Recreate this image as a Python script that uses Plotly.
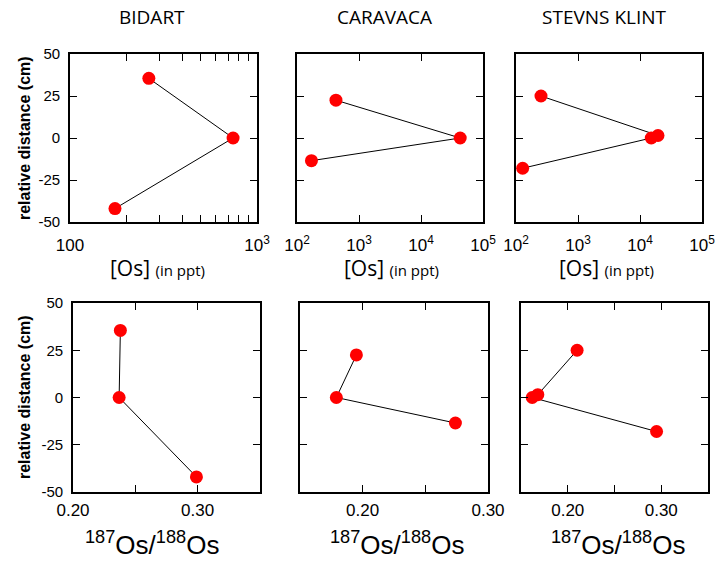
import plotly.graph_objects as go

# ---------------- data ----------------
sites = ["BIDART", "CARAVACA", "STEVNS KLINT"]

bidart_y = [35.5, 0, -42]
bidart_os = [264, 745, 174]
bidart_ratio = [0.238, 0.237, 0.299]

caravaca_y = [22.5, 0, -13.5]
caravaca_os = [425, 42900, 171]
caravaca_ratio = [0.195, 0.179, 0.274]

stevns_y = [25, 1.5, 0, -18]
stevns_os = [253, 19500, 15200, 128]
stevns_ratio = [0.210, 0.168, 0.162, 0.295]

y_ticks = [-50, -25, 0, 25, 50]
y_ticktext = ["-50", "-25", "0", "25", "50"]

os_ticks_bidart = [100, 1000]
os_ticktext_bidart = ["100", "10<sup>3</sup>"]
os_minor_bidart = [200, 300, 400, 500, 600, 700, 800, 900]
os_ticks_wide = [100, 1000, 10000, 100000]
os_ticktext_wide = ["10<sup>2</sup>", "10<sup>3</sup>", "10<sup>4</sup>", "10<sup>5</sup>"]

ratio_ticks = [0.20, 0.30]
ratio_ticktext = ["0.20", "0.30"]
ratio_minor = [0.15, 0.25, 0.35]

# ---------------- layout geometry ----------------
W, H = 715, 561


def px_x(a, b):
    return [a / W, b / W]


def px_y(top, bottom):
    return [1 - bottom / H, 1 - top / H]


top_dom = px_y(54, 222)
bot_dom = px_y(303, 492)
top_x = [px_x(70, 257), px_x(297, 483), px_x(516, 702)]
bot_x = [px_x(73, 260), px_x(300, 488), px_x(521, 708)]

fig = go.Figure()

panels = [
    (bidart_os, bidart_y), (caravaca_os, caravaca_y), (stevns_os, stevns_y),
    (bidart_ratio, bidart_y), (caravaca_ratio, caravaca_y), (stevns_ratio, stevns_y),
]

for i, (xv, yv) in enumerate(panels):
    n = "" if i == 0 else str(i + 1)
    fig.add_trace(go.Scatter(
        x=xv, y=yv, mode="lines+markers",
        line=dict(color="black", width=1),
        marker=dict(color="#ff0000", size=13),
        xaxis="x" + n, yaxis="y" + n, showlegend=False,
    ))

arial = "Liberation Sans, Arial, sans-serif"
myriad = "Open Sans, sans-serif"

common = dict(
    showline=True, linecolor="black", linewidth=1.6, mirror="allticks",
    ticks="inside", ticklen=7, tickcolor="black", tickwidth=1.2,
    showgrid=False, zeroline=False, automargin=False, ticklabeloverflow="allow",
)

minor_style = dict(ticks="inside", ticklen=7, tickcolor="black", tickwidth=1.2, showgrid=False)

layout = dict(
    width=W, height=H, margin=dict(l=0, r=0, t=0, b=0, autoexpand=False),
    paper_bgcolor="white", plot_bgcolor="white",
)

x_specs = [
    dict(type="log", range=[2, 3], tickmode="array", tickvals=os_ticks_bidart,
         ticktext=os_ticktext_bidart, domain=top_x[0], ticklabelstandoff=7,
         minor=dict(tickmode="array", tickvals=os_minor_bidart, **minor_style)),
    dict(type="log", range=[2, 5], tickmode="array", tickvals=os_ticks_wide,
         ticktext=os_ticktext_wide, domain=top_x[1], ticklabelstandoff=7),
    dict(type="log", range=[2, 5], tickmode="array", tickvals=os_ticks_wide,
         ticktext=os_ticktext_wide, domain=top_x[2], ticklabelstandoff=7),
    dict(range=[0.20, 0.35], tickmode="array", tickvals=ratio_ticks,
         ticktext=ratio_ticktext, domain=bot_x[0], ticklabelstandoff=2,
         minor=dict(tickmode="array", tickvals=ratio_minor, **minor_style)),
    dict(range=[0.15, 0.30], tickmode="array", tickvals=ratio_ticks,
         ticktext=ratio_ticktext, domain=bot_x[1], ticklabelstandoff=2,
         minor=dict(tickmode="array", tickvals=ratio_minor, **minor_style)),
    dict(range=[0.15, 0.35], tickmode="array", tickvals=ratio_ticks,
         ticktext=ratio_ticktext, domain=bot_x[2], ticklabelstandoff=2,
         minor=dict(tickmode="array", tickvals=ratio_minor, **minor_style)),
]

for i, spec in enumerate(x_specs):
    n = "" if i == 0 else str(i + 1)
    ax = dict(common)
    ax.update(spec)
    ax["anchor"] = "y" + n
    ax["tickfont"] = dict(family=arial, size=17, color="black")
    layout["xaxis" + n] = ax

    ya = dict(common)
    ya.update(dict(range=[-50, 50], tickmode="array", tickvals=y_ticks,
                   ticktext=y_ticktext, showticklabels=(i in (0, 3)),
                   domain=top_dom if i < 3 else bot_dom,
                   anchor="x" + n, ticklabelstandoff=5,
                   tickfont=dict(family=arial, size=15, color="black")))
    layout["yaxis" + n] = ya

fig.update_layout(**layout)

# ---------------- annotations ----------------
ann = []
title_cx = [151.5, 384.5, 604.5]
os_cx = [157.5, 391.5, 606.5]
for i, s in enumerate(sites):
    ann.append(dict(text=s, x=title_cx[i] / W, y=1 - 17 / H, xref="paper", yref="paper",
                    showarrow=False, font=dict(family=myriad, size=19, color="black"),
                    xanchor="center", yanchor="middle"))
    ann.append(dict(text="[Os] <span style='font-size:15px'>(in ppt)</span>",
                    x=os_cx[i] / W, y=1 - 268 / H, xref="paper", yref="paper", showarrow=False,
                    font=dict(family=myriad, size=21, color="black"),
                    xanchor="center", yanchor="middle"))

bot_cx = [151.5, 397, 618]
for cx in bot_cx:
    ann.append(dict(text="<sup>187</sup>Os/<sup>188</sup>Os",
                    x=cx / W, y=1 - 543 / H, xref="paper", yref="paper", showarrow=False,
                    font=dict(family=arial, size=26, color="black"),
                    xanchor="center", yanchor="middle"))

for yc in (138, 397):
    ann.append(dict(text="<b>relative distance (cm)</b>", x=24 / W, y=1 - yc / H,
                    xref="paper", yref="paper", showarrow=False, textangle=-90,
                    font=dict(family=arial, size=16, color="black"),
                    xanchor="center", yanchor="middle"))

fig.update_layout(annotations=ann)

fig.write_html(
    "out.html",
    config={"displayModeBar": False},
    post_script="document.body.style.margin='0';document.body.style.overflow='hidden';",
)
